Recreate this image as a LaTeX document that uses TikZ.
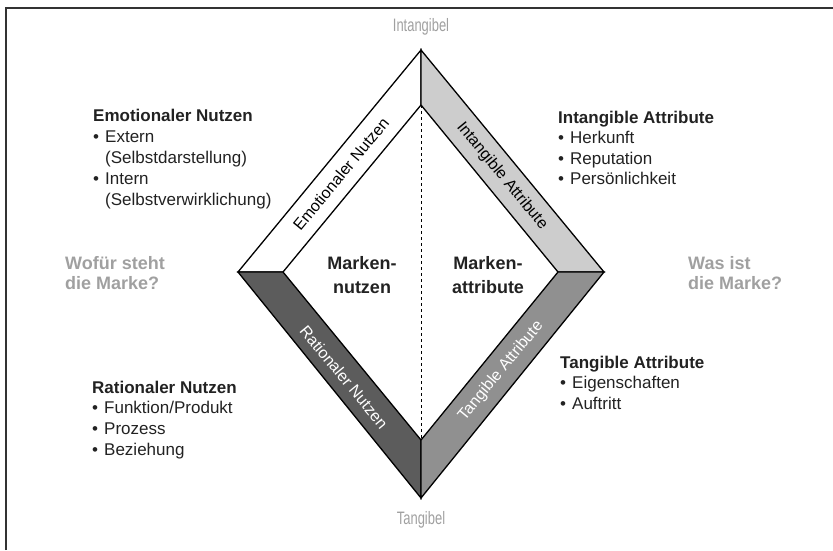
\documentclass[tikz,border=0pt]{standalone}
\usepackage{fontspec}
\setmainfont{Liberation Sans}
\newfontfamily\narrowfont[FakeStretch=0.72]{Liberation Sans}
\definecolor{bandlight}{HTML}{CDCDCD}
\definecolor{banddark}{HTML}{5C5C5C}
\definecolor{bandmid}{HTML}{909090}
\definecolor{graytext}{HTML}{A0A0A0}
\definecolor{bodytext}{HTML}{222222}
\newcommand\bl[1]{\makebox[12pt][l]{\textbullet}#1}
\newcommand\ind[1]{\hspace*{12pt}#1}
\begin{document}
\begin{tikzpicture}[x=1pt,y=-1pt,
  band/.style={draw=black,line width=1.3pt,line join=miter},
  txt/.style={anchor=base west,inner sep=0pt,font=\fontsize{17}{21}\selectfont,text=bodytext},
  bandlbl/.style={inner sep=0pt,font=\fontsize{16}{19}\selectfont},
  center/.style={anchor=base,inner sep=0pt,font=\fontsize{18}{22}\selectfont\bfseries,text=bodytext},
  ask/.style={anchor=base west,inner sep=0pt,font=\fontsize{18}{22}\selectfont\bfseries,text=graytext},
  pole/.style={anchor=base,inner sep=0pt,font=\fontsize{18}{22}\narrowfont,text=graytext}]
\useasboundingbox (0,0) rectangle (833,550);
% frame
\draw[line width=1.4pt,black!80] (6,550) -- (6,8) -- (840,8);
% diamond corners
\coordinate (OT) at (421,50);
\coordinate (OB) at (421,498);
\coordinate (OL) at (238,272);
\coordinate (OR) at (604,272);
\coordinate (IT) at (421,105);
\coordinate (IB) at (421,440);
\coordinate (IL) at (283,272);
\coordinate (IR) at (558,272);
% bands
\filldraw[band,fill=white] (OL) -- (OT) -- (IT) -- (IL) -- cycle;
\filldraw[band,fill=bandlight] (OT) -- (OR) -- (IR) -- (IT) -- cycle;
\filldraw[band,fill=banddark] (OL) -- (IL) -- (IB) -- (OB) -- cycle;
\filldraw[band,fill=bandmid] (IR) -- (OR) -- (OB) -- (IB) -- cycle;
\draw[dashed,line width=0.9pt] (IT) -- (IB);
% band labels
\node[bandlbl,rotate=50.5] (lemo) at (341,174) {Emotionaler Nutzen};
\node[bandlbl,rotate=-50.5] (lint) at (502,176) {Intangible Attribute};
\node[bandlbl,rotate=-50.5,text=white] (lrat) at (344,377) {Rationaler Nutzen};
\node[bandlbl,rotate=50.5,text=white] (ltan) at (501,371) {Tangible Attribute};
% centre
\node[center] (mn1) at (362,269.5) {Marken-};
\node[center] (mn2) at (362,293.5) {nutzen};
\node[center] (ma1) at (488,269.5) {Marken-};
\node[center] (ma2) at (488,293.5) {attribute};
% poles
\node[pole] (intang) at (421,31) {Intangibel};
\node[pole] (tang) at (421,524) {Tangibel};
% questions
\node[ask] (q1a) at (65,269) {Wofür steht};
\node[ask] (q1b) at (65,289) {die Marke?};
\node[ask] (q2a) at (688,269) {Was ist};
\node[ask] (q2b) at (688,289) {die Marke?};
% text blocks
\foreach \t [count=\i from 0] in {\textbf{Emotionaler Nutzen},\bl{Extern},\ind{(Selbstdarstellung)},\bl{Intern},\ind{(Selbstverwirklichung)}}
  \node[txt] (emo\i) at (93,121+21*\i) {\t};
\foreach \t [count=\i from 0] in {\textbf{Intangible Attribute},\bl{Herkunft},\bl{Reputation},\bl{Persönlichkeit}}
  \node[txt] (int\i) at (558,123+20.5*\i) {\t};
\foreach \t [count=\i from 0] in {\textbf{Rationaler Nutzen},\bl{Funktion/Produkt},\bl{Prozess},\bl{Beziehung}}
  \node[txt] (rat\i) at (92,393+20.7*\i) {\t};
\foreach \t [count=\i from 0] in {\textbf{Tangible Attribute},\bl{Eigenschaften},\bl{Auftritt}}
  \node[txt] (tan\i) at (560,368+20.5*\i) {\t};
\end{tikzpicture}
\end{document}
